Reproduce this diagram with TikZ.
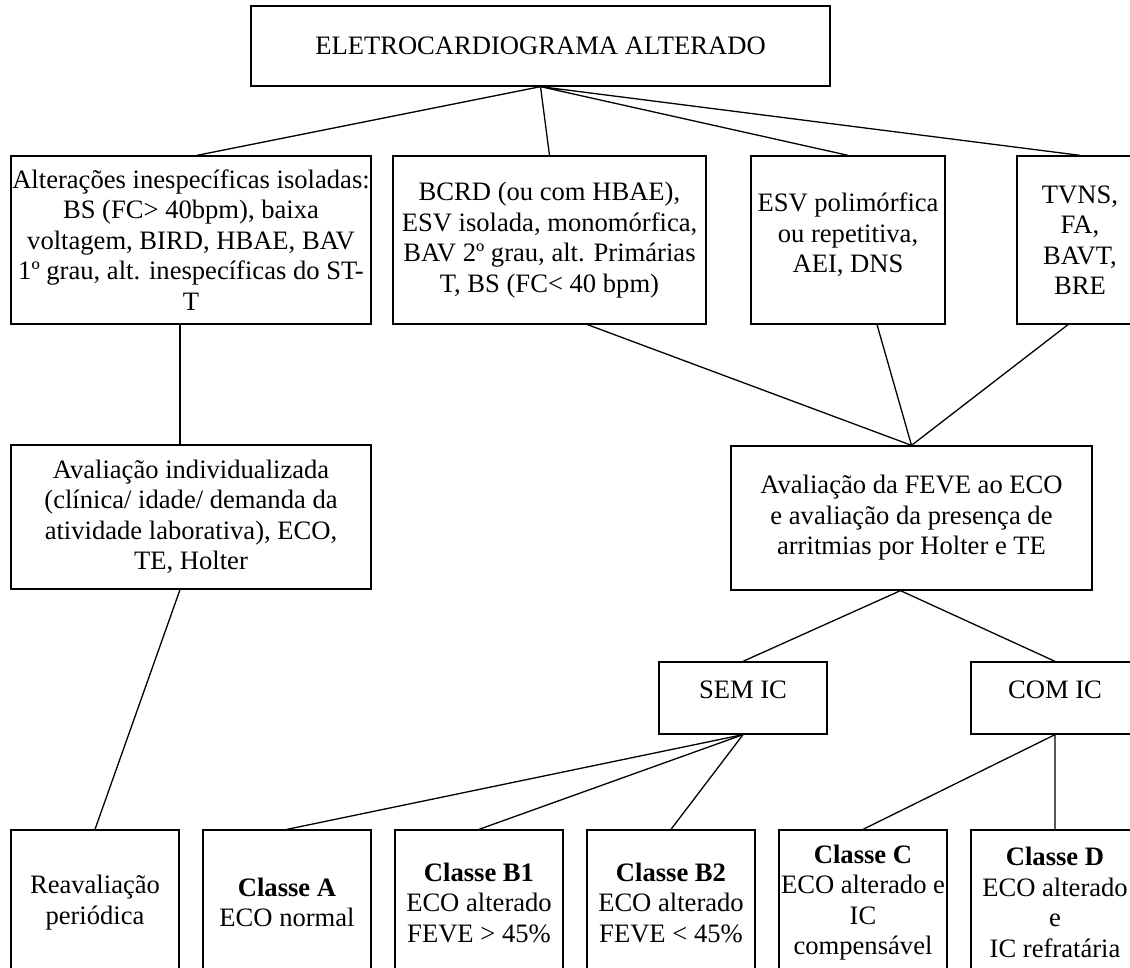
\documentclass[tikz,border=0pt]{standalone}
\usepackage{fontspec}
\setmainfont{Liberation Serif}
\begin{document}
\begin{tikzpicture}[x=1pt,y=-1pt,line width=1.3pt,
        box/.style={draw,align=center,inner sep=0pt,font={\fontsize{26.6}{30.5}\selectfont}},
        low/.style={box,minimum width=168pt,minimum height=145pt}]
        \useasboundingbox (0,0) rectangle (1130,968);
        % first level
        \node[box,minimum width=579pt,minimum height=80pt] (ecg) at (540.5,46) {ELETROCARDIOGRAMA ALTERADO};
        \node[box,minimum width=360pt,minimum height=168pt] (b1) at (191,240)
            {Alterações inespecíficas isoladas:\\BS (FC> 40bpm), baixa\\voltagem, BIRD, HBAE, BAV\\1º grau, alt. inespecíficas do ST-\\T};
        \node[box,minimum width=313pt,minimum height=168pt] (b2) at (549.5,240)
            {BCRD (ou com HBAE),\\ESV isolada, monomórfica,\\BAV 2º grau, alt. Primárias\\T, BS (FC< 40 bpm)};
        \node[box,minimum width=194pt,minimum height=168pt,text depth=14pt] (b3) at (848,240)
            {ESV polimórfica\\ou repetitiva,\\AEI, DNS};
        \node[box,minimum width=126pt,minimum height=168pt] (b4) at (1080,240)
            {TVNS,\\FA,\\BAVT,\\BRE};
        % second level
        \node[box,minimum width=360pt,minimum height=144pt] (b5) at (191,517)
            {Avaliação individualizada\\(clínica/ idade/ demanda da\\atividade laborativa), ECO,\\TE, Holter};
        \node[box,minimum width=361pt,minimum height=144pt] (feve) at (911.5,518)
            {Avaliação da FEVE ao ECO\\e avaliação da presença de\\arritmias por Holter e TE};
        \node[box,minimum width=168pt,minimum height=72pt,text depth=16pt] (sem) at (743,698) {SEM IC};
        \node[box,minimum width=168pt,minimum height=72pt,text depth=16pt] (com) at (1055,698) {COM IC};
        % classes
        \node[low] (reav) at (95,902.5) {Reavaliação\\periódica};
        \node[low] (ca) at (287,902.5) {\textbf{Classe A}\\ECO normal};
        \node[low] (cb1) at (479,902.5) {\textbf{Classe B1}\\ECO alterado\\FEVE > 45\%};
        \node[low] (cb2) at (671,902.5) {\textbf{Classe B2}\\ECO alterado\\FEVE < 45\%};
        \node[low] (cc) at (863,902.5) {\textbf{Classe C}\\ECO alterado e\\IC\\compensável};
        \node[low] (cd) at (1055,902.5) {\textbf{Classe D}\\ECO alterado\\e\\IC refratária};
        % connectors
        \draw ([xshift=6pt]b1.north) -- (ecg.south) -- (b2.north);
        \draw (b3.north) -- (ecg.south) -- (b4.north);
        \coordinate (t) at ([xshift=-11pt]b1.south);
        \draw (t) -- ++(23,0);
        \draw (t) -- (t |- b5.north);
        \draw (t |- b5.south) -- (reav.north);
        \draw ([xshift=38pt]b2.south) -- (feve.north);
        \draw ([xshift=29pt]b3.south) -- (feve.north);
        \draw ([xshift=-12pt]b4.south) -- (feve.north);
        \draw (sem.north) -- ([xshift=-11pt]feve.south) -- (com.north);
        \foreach \c in {ca,cb1,cb2}
            \draw (sem.south) -- (\c.north);
        \draw (cc.north) -- (com.south) -- (cd.north);
\end{tikzpicture}
\end{document}
